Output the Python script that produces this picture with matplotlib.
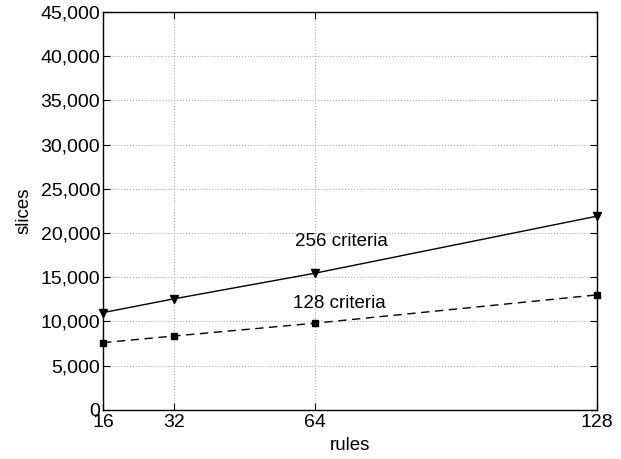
import matplotlib
matplotlib.use('Agg')
import matplotlib.pyplot as plt
from matplotlib.ticker import FuncFormatter

# data
rules = [16, 32, 64, 128]
slices_256 = [11000, 12550, 15450, 21900]
slices_128 = [7600, 8350, 9800, 13000]
x_ticks = [16, 32, 64, 128]
y_ticks = list(range(0, 45001, 5000))

plt.rcParams['font.family'] = ['Liberation Sans', 'DejaVu Sans']

fig = plt.figure(figsize=(6.21, 4.59), dpi=100)
ax = fig.add_axes([0.166, 0.107, 0.795, 0.867])

ax.plot(rules, slices_256, color='black', lw=1.0, marker='v', ms=6,
        clip_on=False, zorder=3)
ax.plot(rules, slices_128, color='black', lw=1.0, ls=(0, (6, 4)),
        marker='s', ms=5, clip_on=False, zorder=3)

ax.text(70, 19000, '256 criteria', ha='center', va='center', fontsize=13.5)
ax.text(69.5, 12000, '128 criteria', ha='center', va='center', fontsize=13.5)

ax.set_xlim(16, 128)
ax.set_ylim(0, 45000)
ax.set_xticks(x_ticks)
ax.set_yticks(y_ticks)
ax.yaxis.set_major_formatter(FuncFormatter(lambda v, p: f"{int(v):,}"))
ax.tick_params(direction='in', top=True, right=True, labelsize=14,
               length=5, width=0.8, pad=2)
ax.tick_params(axis='x', pad=3)
ax.grid(True, ls=':', color='#b0b0b0', lw=0.8)
for s in ax.spines.values():
    s.set_linewidth(1.0)

ax.set_xlabel('rules', fontsize=13.5, labelpad=4)
ax.set_ylabel('slices', fontsize=13.5, labelpad=6)

fig.savefig('out.png', dpi=100)
